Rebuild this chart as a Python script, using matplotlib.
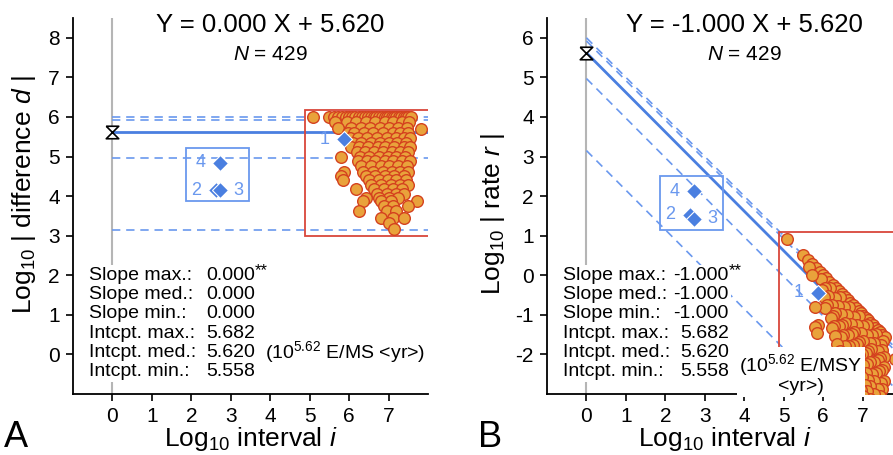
import numpy as np
import matplotlib.pyplot as plt
from matplotlib.patches import Rectangle

plt.rcParams['font.family'] = ['Liberation Sans', 'DejaVu Sans']
plt.rcParams['mathtext.fontset'] = 'custom'
plt.rcParams['mathtext.rm'] = 'Liberation Sans'
plt.rcParams['mathtext.it'] = 'Liberation Sans:italic'
plt.rcParams['axes.unicode_minus'] = False

# point cloud: rows of log10 |difference| and the log10 intervals in each row
row_d = [6.00, 5.86, 5.73, 5.69, 5.60, 5.48, 5.35, 5.23, 5.11, 5.00, 4.88, 4.76,
         4.62, 4.50, 4.40, 4.28, 4.18, 4.05, 3.95, 3.87, 3.75, 3.62, 3.45, 3.32, 3.18]
row_i = [
    [5.08, 5.50, 5.62, 5.72, 5.82, 5.92, 6.00, 6.08, 6.16, 6.24, 6.32, 6.40, 6.48, 6.55, 6.62,
     6.69, 6.76, 6.83, 6.90, 6.96, 7.02, 7.08, 7.14, 7.20, 7.26, 7.32, 7.38, 7.44, 7.50, 7.56],
    [5.65, 5.95, 6.18, 6.42, 6.66, 6.90, 7.12, 7.35, 7.52],
    [5.72, 6.05, 6.30, 6.52, 6.78, 7.02, 7.25, 7.48],
    [7.81],
    [5.97, 6.12, 6.38, 6.60, 6.85, 7.10, 7.30, 7.50],
    [6.02, 6.22, 6.46, 6.70, 6.95, 7.18, 7.40, 7.55],
    [6.10, 6.30, 6.55, 6.78, 7.00, 7.22, 7.45],
    [6.06, 6.25, 6.48, 6.72, 6.92, 7.15, 7.38, 7.55],
    [6.20, 6.40, 6.62, 6.85, 7.08, 7.30, 7.50],
    [5.80, 6.28, 6.50, 6.75, 6.98, 7.20, 7.42],
    [6.22, 6.45, 6.66, 6.90, 7.12, 7.35, 7.55],
    [6.30, 6.55, 6.80, 7.02, 7.25, 7.48],
    [5.88, 6.35, 6.60, 6.85, 7.08, 7.30, 7.50],
    [5.80, 6.42, 6.66, 6.90, 7.15, 7.38],
    [5.85, 6.50, 6.75, 6.98, 7.20, 7.45],
    [6.55, 6.80, 7.05, 7.28, 7.50],
    [6.18, 6.62, 6.88, 7.10, 7.35],
    [6.70, 6.95, 7.18, 7.40],
    [6.42, 6.75, 7.00, 7.25],
    [6.36, 6.82, 7.05, 7.71],
    [6.88, 7.12, 7.50],
    [6.26, 6.95, 7.20],
    [6.82, 7.12, 7.40],
    [7.00],
    [7.15],
]
log_i = np.concatenate([np.array(r) for r in row_i])
log_d = np.concatenate([np.full(len(r), d) for r, d in zip(row_i, row_d)])
log_r = log_d - log_i

# numbered reference cases (diamonds)
case_lbl = ['1', '2', '3', '4']
case_i = np.array([5.88, 2.62, 2.72, 2.72])
case_d = np.array([5.44, 4.15, 4.15, 4.84])
case_dx = [-0.50, -0.50, 0.48, -0.48]

# fitted line and envelope
intercept_med = 5.620
envelope = [6.00, 5.92, 4.97, 3.15]
stat_labels = ['Slope max.:', 'Slope med.:', 'Slope min.:',
               'Intcpt. max.:', 'Intcpt. med.:', 'Intcpt. min.:']
intcpt_vals = ['5.682', '5.620', '5.558']

panels = [
    dict(letter='A', slope=0.0, ys=log_d, cy=case_d,
         ylabel='Log$_{10}$ | difference $d$ |', ylim=(-1, 8.5), yticks=range(0, 9),
         title='Y = 0.000 X + 5.620', slopes=['0.000', '0.000', '0.000'],
         extra='(10$^{5.62}$ E/MS <yr>)', left=73, ylab=(-0.099, 0.53)),
    dict(letter='B', slope=-1.0, ys=log_r, cy=case_d - case_i,
         ylabel='Log$_{10}$ | rate $r$ |', ylim=(-3, 6.5), yticks=range(-2, 7),
         title='Y = -1.000 X + 5.620', slopes=['-1.000', '-1.000', '-1.000'],
         extra='(10$^{5.62}$ E/MSY\n<yr>)', left=547, ylab=(-0.113, 0.48)),
]

BLUE = '#4a7fe0'
LBLUE = '#6a98ee'
RED = '#d9463a'

W, H = 893, 455
fig = plt.figure(figsize=(W / 100, H / 100), dpi=100)

for p in panels:
    ax = fig.add_axes([p['left'] / W, 61 / H, 355 / W, 376 / H])
    ax.set_xlim(-1, 8)
    ax.set_ylim(*p['ylim'])
    for s in ['top', 'right']:
        ax.spines[s].set_visible(False)
    for s in ['left', 'bottom']:
        ax.spines[s].set_linewidth(1.3)
    ax.set_xticks(range(0, 8))
    ax.set_yticks(list(p['yticks']))
    ax.tick_params(labelsize=15, length=5, width=1.2, pad=4.5)

    ax.axvline(0, color='#b5b5b5', lw=1.5, zorder=1)

    xx = np.array([0, 8.1])
    for b in envelope:
        ax.plot(xx, b + p['slope'] * xx, ls=(0, (5, 3.5)), color=LBLUE, lw=1.2, zorder=2)
    ax.plot(xx, intercept_med + p['slope'] * xx, color=BLUE, lw=2, zorder=3)

    # red box around the data cloud
    x0, x1 = log_i.min() - 0.2, log_i.max() + 0.23
    y0, y1 = p['ys'].min() - 0.2, p['ys'].max() + 0.18
    ax.add_patch(Rectangle((x0, y0), x1 - x0, y1 - y0, fill=False, ec=RED, lw=1.3, zorder=3))

    ax.scatter(log_i, p['ys'], s=70, c='#e9a23b', edgecolors='#d4411e', linewidths=1.0, zorder=4)

    # blue box round cases 2-4
    bx0, bx1 = case_i[1:].min() - 0.76, case_i[1:].max() + 0.74
    by0, by1 = p['cy'][1:].min() - 0.28, p['cy'][1:].max() + 0.38
    ax.add_patch(Rectangle((bx0, by0), bx1 - bx0, by1 - by0, fill=False, ec=LBLUE, lw=1.3, zorder=3))
    ax.plot(case_i, p['cy'], 'D', ms=8, color=BLUE, mec='white', mew=0.8, ls='none', zorder=5)
    for lb, xi, yi, dx in zip(case_lbl, case_i, p['cy'], case_dx):
        ax.text(xi + dx, yi, lb, color=LBLUE, fontsize=13, ha='center', va='center', zorder=6)

    ax.plot([0], [intercept_med], marker=[(-1, 1), (1, 1), (-1, -1), (1, -1), (-1, 1)],
            ms=9, mfc='white', mec='black', mew=1.2, zorder=6, clip_on=False)

    ax.text(0.555, 0.982, p['title'], transform=ax.transAxes, fontsize=18.5,
            ha='center', va='center')
    ax.text(0.555, 0.902, '$N$ = 429', transform=ax.transAxes, fontsize=15,
            ha='center', va='center')

    vals = p['slopes'] + intcpt_vals
    bb = dict(fc='white', ec='none', pad=1.5)
    for k, (lab, v) in enumerate(zip(stat_labels, vals)):
        yk = 0.316 - 0.0513 * k
        ax.text(0.045, yk, lab, transform=ax.transAxes, fontsize=14,
                ha='left', va='center', bbox=bb, zorder=7)
        ax.text(0.512, yk, v, transform=ax.transAxes, fontsize=14,
                ha='right', va='center', bbox=bb, zorder=7)
    ax.text(0.512, 0.316 + 0.012, '**', transform=ax.transAxes, fontsize=12,
            ha='left', va='center', zorder=7)
    if p['letter'] == 'A':
        ax.text(0.540, 0.316 - 0.0513 * 4, p['extra'], transform=ax.transAxes, fontsize=14,
                ha='left', va='center', bbox=bb, zorder=7)
    else:
        ax.text(0.715, 0.316 - 0.0513 * 4, p['extra'], transform=ax.transAxes, fontsize=14,
                ha='center', va='top', multialignment='center', bbox=bb, zorder=7,
                linespacing=0.95)

    ax.set_ylabel(p['ylabel'], fontsize=19)
    ax.yaxis.set_label_coords(*p['ylab'])
    ax.set_xlabel('Log$_{10}$ interval $i$', fontsize=19)
    ax.xaxis.set_label_coords(0.5, -0.082)

    fig.text((p['left'] - 69) / W, 0.0, p['letter'], fontsize=26, ha='left', va='bottom')

fig.savefig('out.png', dpi=100)
